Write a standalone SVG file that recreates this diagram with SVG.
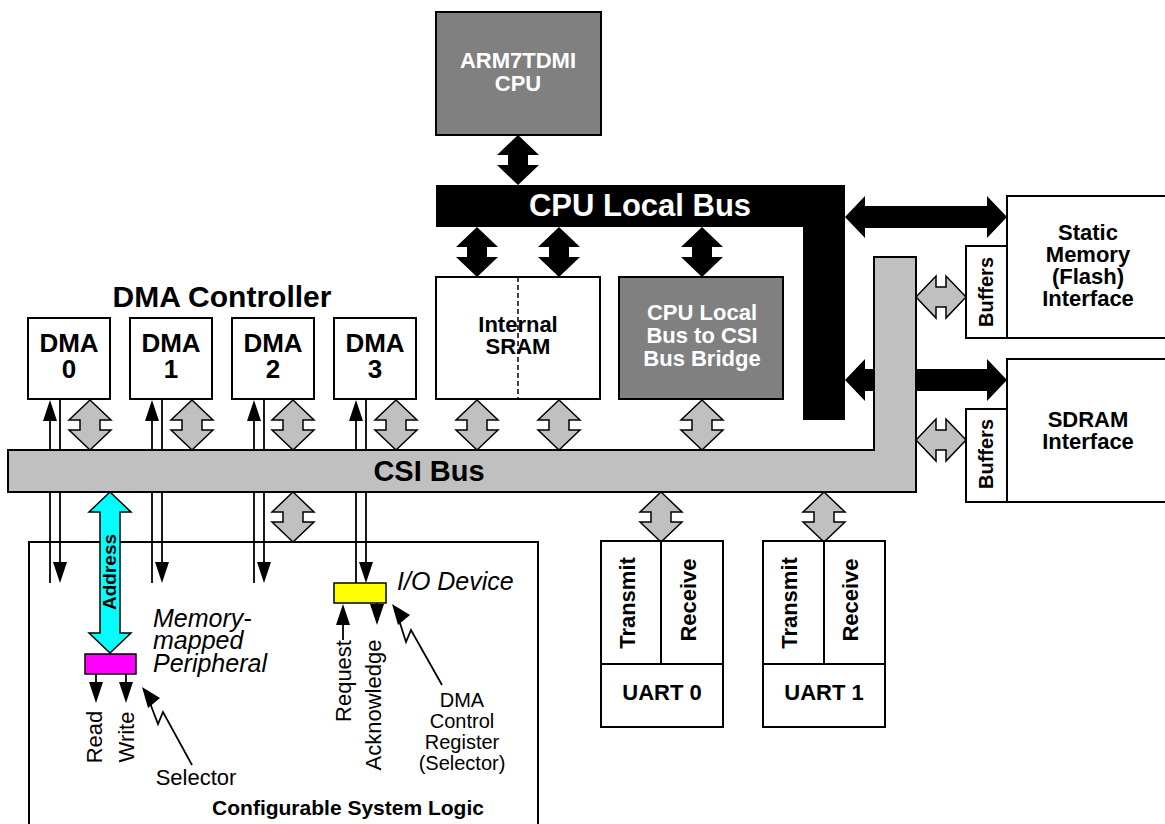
<svg xmlns="http://www.w3.org/2000/svg" xmlns:xlink="http://www.w3.org/1999/xlink" width="1165" height="824" viewBox="0 0 1165 824">
<style>
.box{fill:#fff;stroke:#000;stroke-width:2}
.dk{fill:#808080;stroke:#000;stroke-width:2}
.ga{fill:#c0c0c0;stroke:#000;stroke-width:1.5;stroke-linejoin:miter}
.ba{fill:#000}
.ln{stroke:#000;stroke-width:1.8;fill:none}
text{font-family:"Liberation Sans",Arial,Helvetica,sans-serif}
.bw{font-weight:bold;font-size:22px;fill:#fff;text-anchor:middle}
.bk{font-weight:bold;font-size:22px;fill:#000;text-anchor:middle}
.dma{font-weight:bold;font-size:26px;fill:#000;text-anchor:middle}
.nm{font-size:22px;fill:#000;text-anchor:middle}
.it{font-style:italic;font-size:25px;fill:#000}
</style>
<defs>
<path id="dv" d="M0,-25 L21,-5 L10,-5 L10,5 L21,5 L0,25 L-21,5 L-10,5 L-10,-5 L-21,-5 Z"/>
<path id="dh" d="M-25,0 L-5,-21 L-5,-10 L5,-10 L5,-21 L25,0 L5,21 L5,10 L-5,10 L-5,21 Z"/>
<path id="tdn" d="M0,0 L-7,-21 L7,-21 Z"/>
<path id="tup" d="M0,0 L-7,21 L7,21 Z"/>
</defs>

<g id="csl">
<rect class="box" x="29" y="542" width="509" height="320"/>
<text x="348" y="815" class="bk" style="font-size:21px">Configurable System Logic</text>
</g>

<g id="connectors">
<g class="ln">
<line x1="50" y1="410" x2="50" y2="583"/><line x1="60" y1="399" x2="60" y2="570"/>
<line x1="152" y1="410" x2="152" y2="583"/><line x1="162" y1="399" x2="162" y2="570"/>
<line x1="254" y1="410" x2="254" y2="583"/><line x1="264" y1="399" x2="264" y2="570"/>
<line x1="356" y1="410" x2="356" y2="583"/><line x1="366" y1="399" x2="366" y2="570"/>
<line x1="96" y1="674" x2="96" y2="690"/><line x1="126" y1="674" x2="126" y2="690"/>
<line x1="343" y1="615" x2="343" y2="640"/><line x1="377" y1="603" x2="377" y2="612"/>
<polyline points="192,765 163,712 158,724 150,703"/>
<polyline points="442,685 411,630 406,642 399,620"/>
</g>
<g class="ba">
<use xlink:href="#tup" x="50" y="400"/><use xlink:href="#tdn" x="60" y="583"/>
<use xlink:href="#tup" x="152" y="400"/><use xlink:href="#tdn" x="162" y="583"/>
<use xlink:href="#tup" x="254" y="400"/><use xlink:href="#tdn" x="264" y="583"/>
<use xlink:href="#tup" x="356" y="400"/><use xlink:href="#tdn" x="366" y="583"/>
<use xlink:href="#tdn" x="96" y="703"/><use xlink:href="#tdn" x="126" y="703"/>
<use xlink:href="#tup" x="343" y="604"/><use xlink:href="#tdn" x="377" y="625"/>
<path d="M142,687 L160,698 L148,708 Z"/>
<path d="M392,604 L410,615 L398,625 Z"/>
</g>
<g class="ba">
<use xlink:href="#dv" x="518" y="160"/>
<use xlink:href="#dv" x="477" y="252"/>
<use xlink:href="#dv" x="559" y="252"/>
<use xlink:href="#dv" x="702" y="252"/>
<path d="M845,217 L865,196 L865,206 L987,206 L987,196 L1007,217 L987,238 L987,228 L865,228 L865,238 Z"/>
<path d="M845,380 L865,359 L865,369 L987,369 L987,359 L1007,380 L987,401 L987,391 L865,391 L865,401 Z"/>
</g>
</g>

<g id="cpu-local-bus">
<path d="M436,185 L845,185 L845,420 L803,420 L803,227 L436,227 Z" fill="#000"/>
<text x="640" y="216" class="bw" style="font-size:31px">CPU Local Bus</text>
</g>

<g id="csi-bus">
<path d="M8,450 L874,450 L874,257 L916,257 L916,492 L8,492 Z" fill="#c0c0c0" stroke="#000" stroke-width="2"/>
<text x="429" y="481" class="bk" style="font-size:29px">CSI Bus</text>
</g>

<g id="bus-arrows">
<g class="ga">
<use xlink:href="#dv" x="90" y="425"/>
<use xlink:href="#dv" x="192" y="425"/>
<use xlink:href="#dv" x="293" y="425"/>
<use xlink:href="#dv" x="396" y="425"/>
<use xlink:href="#dv" x="477" y="425"/>
<use xlink:href="#dv" x="559" y="425"/>
<use xlink:href="#dv" x="702" y="425"/>
<use xlink:href="#dv" x="293" y="517"/>
<use xlink:href="#dv" x="661" y="517"/>
<use xlink:href="#dv" x="824" y="517"/>
<use xlink:href="#dh" x="941" y="297"/>
<use xlink:href="#dh" x="941" y="440"/>
</g>
<path d="M110,492 L131,512 L120,512 L120,633 L131,633 L110,653 L89,633 L100,633 L100,512 L89,512 Z" fill="#00ffff" stroke="#000" stroke-width="1.5"/>
<text x="0" y="0" transform="translate(116,572) rotate(-90)" class="bk" style="font-size:19px">Address</text>
</g>

<g id="cpu">
<rect class="dk" x="436" y="12" width="165" height="123"/>
<text x="518" y="68" class="bw">ARM7TDMI<tspan x="518" dy="23">CPU</tspan></text>
</g>

<g id="sram">
<rect class="box" x="436" y="277" width="164" height="122"/>
<line x1="518" y1="277" x2="518" y2="399" stroke="#000" stroke-width="1.5" stroke-dasharray="5,3"/>
<text x="518" y="332" class="bk">Internal<tspan x="518" dy="22">SRAM</tspan></text>
</g>

<g id="bridge">
<rect class="dk" x="619" y="277" width="164" height="122"/>
<text x="702" y="320" class="bw">CPU Local<tspan x="702" dy="23">Bus to CSI</tspan><tspan x="702" dy="23">Bus Bridge</tspan></text>
</g>

<text x="222" y="307" class="bk" style="font-size:30px">DMA Controller</text>
<g id="dma0"><rect class="box" x="28" y="318" width="82" height="81"/><text x="69" y="352" class="dma">DMA<tspan x="69" dy="26">0</tspan></text></g>
<g id="dma1"><rect class="box" x="130" y="318" width="82" height="81"/><text x="171" y="352" class="dma">DMA<tspan x="171" dy="26">1</tspan></text></g>
<g id="dma2"><rect class="box" x="232" y="318" width="82" height="81"/><text x="273" y="352" class="dma">DMA<tspan x="273" dy="26">2</tspan></text></g>
<g id="dma3"><rect class="box" x="334" y="318" width="82" height="81"/><text x="375" y="352" class="dma">DMA<tspan x="375" dy="26">3</tspan></text></g>

<g id="static-mem">
<rect class="box" x="1007" y="196" width="170" height="142"/>
<rect class="box" x="966" y="246" width="41" height="92"/>
<text x="0" y="0" transform="translate(993,292) rotate(-90)" class="bk" style="font-size:20px">Buffers</text>
<text x="1088" y="240" class="bk">Static<tspan x="1088" dy="22">Memory</tspan><tspan x="1088" dy="22">(Flash)</tspan><tspan x="1088" dy="22">Interface</tspan></text>
</g>

<g id="sdram">
<rect class="box" x="1007" y="359" width="170" height="143"/>
<rect class="box" x="966" y="409" width="41" height="93"/>
<text x="0" y="0" transform="translate(993,454) rotate(-90)" class="bk" style="font-size:20px">Buffers</text>
<text x="1088" y="427" class="bk">SDRAM<tspan x="1088" dy="22">Interface</tspan></text>
</g>

<g id="uart0">
<rect class="box" x="601" y="541" width="122" height="186"/>
<line x1="601" y1="664" x2="723" y2="664" stroke="#000" stroke-width="2"/>
<line x1="661" y1="541" x2="661" y2="664" stroke="#000" stroke-width="2"/>
<text x="0" y="0" transform="translate(635,603) rotate(-90)" class="bk">Transmit</text>
<text x="0" y="0" transform="translate(696,600) rotate(-90)" class="bk">Receive</text>
<text x="662" y="700" class="bk">UART 0</text>
</g>

<g id="uart1">
<rect class="box" x="763" y="541" width="122" height="186"/>
<line x1="763" y1="664" x2="885" y2="664" stroke="#000" stroke-width="2"/>
<line x1="824" y1="541" x2="824" y2="664" stroke="#000" stroke-width="2"/>
<text x="0" y="0" transform="translate(797,603) rotate(-90)" class="bk">Transmit</text>
<text x="0" y="0" transform="translate(858,600) rotate(-90)" class="bk">Receive</text>
<text x="824" y="700" class="bk">UART 1</text>
</g>

<g id="mm-peripheral">
<rect x="85" y="654" width="51" height="20" fill="#ff00ff" stroke="#000" stroke-width="1.5"/>
<text class="it" x="153" y="627">Memory-<tspan x="153" dy="22">mapped</tspan><tspan x="153" dy="23">Peripheral</tspan></text>
<text x="0" y="0" transform="translate(102,737) rotate(-90)" class="nm">Read</text>
<text x="0" y="0" transform="translate(134,737) rotate(-90)" class="nm">Write</text>
<text x="196" y="785" class="nm">Selector</text>
</g>

<g id="io-device">
<rect x="334" y="583" width="52" height="20" fill="#ffff00" stroke="#000" stroke-width="1.5"/>
<text class="it" x="397" y="590">I/O Device</text>
<text x="0" y="0" transform="translate(351,681) rotate(-90)" class="nm">Request</text>
<text x="0" y="0" transform="translate(381,705) rotate(-90)" class="nm">Acknowledge</text>
<text x="462" y="707" class="nm" style="font-size:20px">DMA<tspan x="462" dy="21">Control</tspan><tspan x="462" dy="21">Register</tspan><tspan x="462" dy="21">(Selector)</tspan></text>
</g>
</svg>
